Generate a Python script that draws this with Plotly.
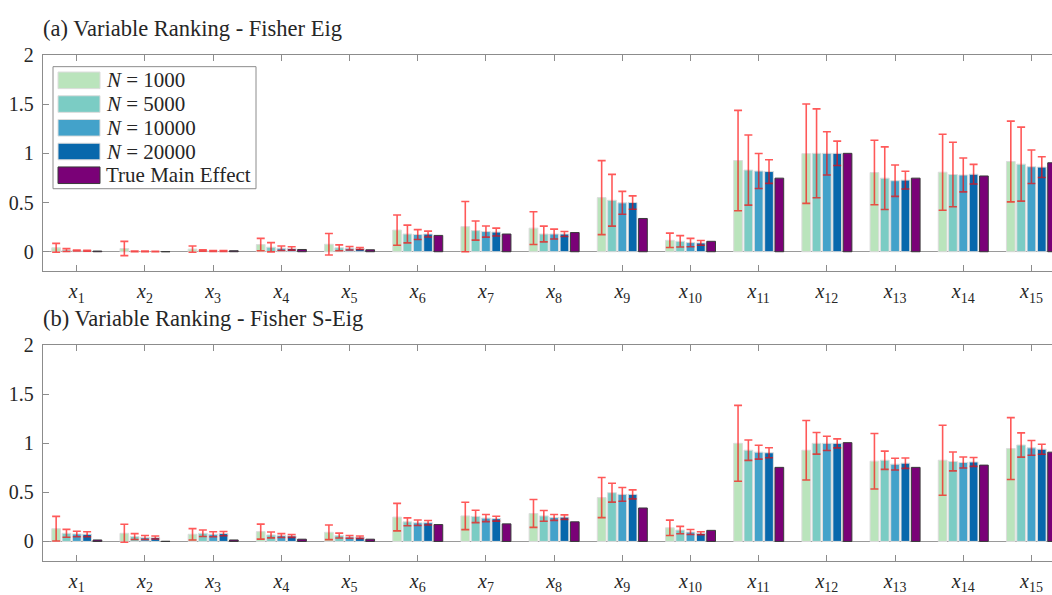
import plotly.graph_objects as go

# ---------------- data ----------------
categories = [1, 2, 3, 4, 5, 6, 7, 8, 9, 10, 11, 12, 13, 14, 15]
tick_labels = ["<i>x</i><sub>1</sub>", "<i>x</i><sub>2</sub>", "<i>x</i><sub>3</sub>",
               "<i>x</i><sub>4</sub>", "<i>x</i><sub>5</sub>", "<i>x</i><sub>6</sub>",
               "<i>x</i><sub>7</sub>", "<i>x</i><sub>8</sub>", "<i>x</i><sub>9</sub>",
               "<i>x</i><sub>10</sub>", "<i>x</i><sub>11</sub>", "<i>x</i><sub>12</sub>",
               "<i>x</i><sub>13</sub>", "<i>x</i><sub>14</sub>", "<i>x</i><sub>15</sub>"]
series_names = ["<i>N</i> = 1000", "<i>N</i> = 5000", "<i>N</i> = 10000",
                "<i>N</i> = 20000", "True Main Effect"]
y_ticks = [0, 0.5, 1, 1.5, 2]
y_tick_text = ["0", "0.5", "1", "1.5", "2"]

# (a) Fisher Eig
a_n1000 = [0.04, 0.033, 0.027, 0.073, 0.076, 0.22, 0.255, 0.24, 0.55, 0.116, 0.927, 0.997, 0.805, 0.808, 0.917]
a_n1000_err = [0.045, 0.072, 0.032, 0.063, 0.109, 0.154, 0.255, 0.167, 0.376, 0.073, 0.51, 0.505, 0.328, 0.386, 0.41]
a_n5000 = [0.017, 0.004, 0.013, 0.046, 0.04, 0.18, 0.215, 0.18, 0.523, 0.106, 0.83, 1.0, 0.748, 0.785, 0.89]
a_n5000_err = [0.015, 0.004, 0.008, 0.047, 0.03, 0.09, 0.097, 0.08, 0.263, 0.058, 0.356, 0.452, 0.318, 0.328, 0.376]
a_n10000 = [0.013, 0.003, 0.008, 0.036, 0.036, 0.175, 0.205, 0.18, 0.497, 0.093, 0.82, 1.0, 0.722, 0.78, 0.864]
a_n10000_err = [0.005, 0.003, 0.005, 0.023, 0.018, 0.05, 0.056, 0.05, 0.116, 0.043, 0.178, 0.22, 0.159, 0.172, 0.17]
a_n20000 = [0.01, 0.003, 0.008, 0.033, 0.033, 0.18, 0.2, 0.18, 0.5, 0.09, 0.815, 1.0, 0.728, 0.788, 0.86]
a_n20000_err = [0.005, 0.002, 0.004, 0.017, 0.01, 0.03, 0.04, 0.025, 0.068, 0.024, 0.12, 0.124, 0.09, 0.1, 0.106]
a_true = [0.007, 0.001, 0.01, 0.023, 0.02, 0.166, 0.18, 0.195, 0.338, 0.106, 0.748, 1.0, 0.748, 0.77, 0.904]

# (b) Fisher S-Eig
b_n1000 = [0.13, 0.083, 0.073, 0.1, 0.093, 0.248, 0.26, 0.285, 0.447, 0.139, 1.0, 0.93, 0.818, 0.828, 0.947]
b_n1000_err = [0.125, 0.092, 0.058, 0.076, 0.075, 0.14, 0.14, 0.142, 0.204, 0.078, 0.387, 0.303, 0.283, 0.357, 0.315]
b_n5000 = [0.083, 0.05, 0.083, 0.066, 0.06, 0.2, 0.255, 0.26, 0.497, 0.116, 0.93, 1.0, 0.828, 0.815, 0.983]
b_n5000_err = [0.04, 0.03, 0.033, 0.03, 0.025, 0.04, 0.063, 0.055, 0.096, 0.037, 0.104, 0.11, 0.093, 0.096, 0.124]
b_n10000 = [0.076, 0.04, 0.073, 0.06, 0.046, 0.19, 0.238, 0.245, 0.48, 0.096, 0.91, 1.0, 0.788, 0.805, 0.954]
b_n10000_err = [0.028, 0.02, 0.025, 0.02, 0.014, 0.028, 0.036, 0.03, 0.07, 0.025, 0.071, 0.073, 0.06, 0.056, 0.075]
b_n20000 = [0.073, 0.04, 0.08, 0.056, 0.043, 0.19, 0.232, 0.248, 0.48, 0.083, 0.904, 1.0, 0.798, 0.81, 0.94]
b_n20000_err = [0.025, 0.015, 0.022, 0.015, 0.012, 0.023, 0.025, 0.023, 0.046, 0.015, 0.051, 0.046, 0.053, 0.045, 0.051]
b_true = [0.015, 0.001, 0.015, 0.023, 0.023, 0.172, 0.179, 0.2, 0.341, 0.113, 0.755, 1.007, 0.755, 0.778, 0.91]

titles = ["(a) Variable Ranking - Fisher Eig", "(b) Variable Ranking - Fisher S-Eig"]

# ---------------- style ----------------
colors = ["#bae4bc", "#7bccc4", "#43a2ca", "#0868ac", "#7a0177"]
edge_colors = ["#dcdcdc", "#dcdcdc", "#dcdcdc", "#dcdcdc", "#3a3a3a"]
FONT = "'Liberation Serif', 'Times New Roman', 'DejaVu Serif', serif"
W, H = 1052, 595


def px_x(p):
    return p / W


def px_y(p):
    return 1 - p / H


fig = go.Figure()

panels = [
    ([a_n1000, a_n5000, a_n10000, a_n20000, a_true],
     [a_n1000_err, a_n5000_err, a_n10000_err, a_n20000_err, None], "x", "y"),
    ([b_n1000, b_n5000, b_n10000, b_n20000, b_true],
     [b_n1000_err, b_n5000_err, b_n10000_err, b_n20000_err, None], "x2", "y2"),
]

for vals, errs, xa, ya in panels:
    for k in range(5):
        err = None
        if errs[k] is not None:
            err = dict(type="data", array=errs[k], visible=True,
                       color="rgba(255,0,0,0.65)", thickness=1.6, width=4)
        fig.add_trace(go.Bar(
            x=categories, y=vals[k], name=series_names[k],
            marker=dict(color=colors[k], line=dict(color=edge_colors[k], width=1)),
            error_y=err, xaxis=xa, yaxis=ya, showlegend=False,
        ))

axis_common = dict(
    showline=True, linecolor="#8c8c8c", linewidth=1,
    ticks="inside", ticklen=6, tickcolor="#8c8c8c",
    tickfont=dict(family=FONT, size=20, color="#262626"),
    showgrid=False,
)

x_dom = [42.7 / W, 1.0]
x_range = [0.5, 0.5 + (W - 42.7) / 68.19]
ydoms = [[px_y(266.7), px_y(45)], [px_y(563.3), px_y(342.3)]]

for i, (xa, ya) in enumerate([("xaxis", "yaxis"), ("xaxis2", "yaxis2")]):
    xname = "x" if i == 0 else "x2"
    yname = "y" if i == 0 else "y2"
    fig.layout[xa] = dict(axis_common, domain=x_dom, range=x_range, anchor=yname,
                          tickmode="array", tickvals=categories, ticktext=tick_labels,
                          mirror="ticks", ticklabelstandoff=2, zeroline=False)
    fig.layout[ya] = dict(axis_common, domain=ydoms[i], range=[-0.2, 2], anchor=xname,
                          tickmode="array", tickvals=y_ticks, ticktext=y_tick_text,
                          zeroline=True, zerolinecolor="#9a9a9a", zerolinewidth=1.2,
                          ticklabelstandoff=4)

annotations = []
for i, t in enumerate(titles):
    annotations.append(dict(text=t, xref="paper", yref="paper", x=px_x(41), y=px_y([18, 315][i]),
                            xanchor="left", yanchor="middle", showarrow=False,
                            font=dict(family=FONT, size=22.5, color="#262626")))

shapes = [dict(type="rect", xref="paper", yref="paper",
               x0=px_x(53), x1=px_x(256), y0=px_y(182), y1=px_y(57),
               fillcolor="white", line=dict(color="#8c8c8c", width=1), layer="above")]
for k in range(5):
    c = 71 + 24.3 * k
    shapes.append(dict(type="rect", xref="paper", yref="paper",
                       x0=px_x(58), x1=px_x(100), y0=px_y(c + 8.5), y1=px_y(c - 8.5),
                       fillcolor=colors[k], line=dict(color=edge_colors[k], width=1),
                       layer="above"))
    annotations.append(dict(text=series_names[k], xref="paper", yref="paper",
                            x=px_x(104), y=px_y(c), xanchor="left", yanchor="middle",
                            showarrow=False,
                            font=dict(family=FONT, size=21, color="#262626")))

fig.update_layout(
    width=W, height=H, margin=dict(l=0, r=0, t=0, b=0),
    paper_bgcolor="white", plot_bgcolor="white",
    barmode="group", bargap=0.243, bargroupgap=0.155,
    annotations=annotations, shapes=shapes, showlegend=False,
    font=dict(family=FONT),
)

fig.write_html("out.html")
